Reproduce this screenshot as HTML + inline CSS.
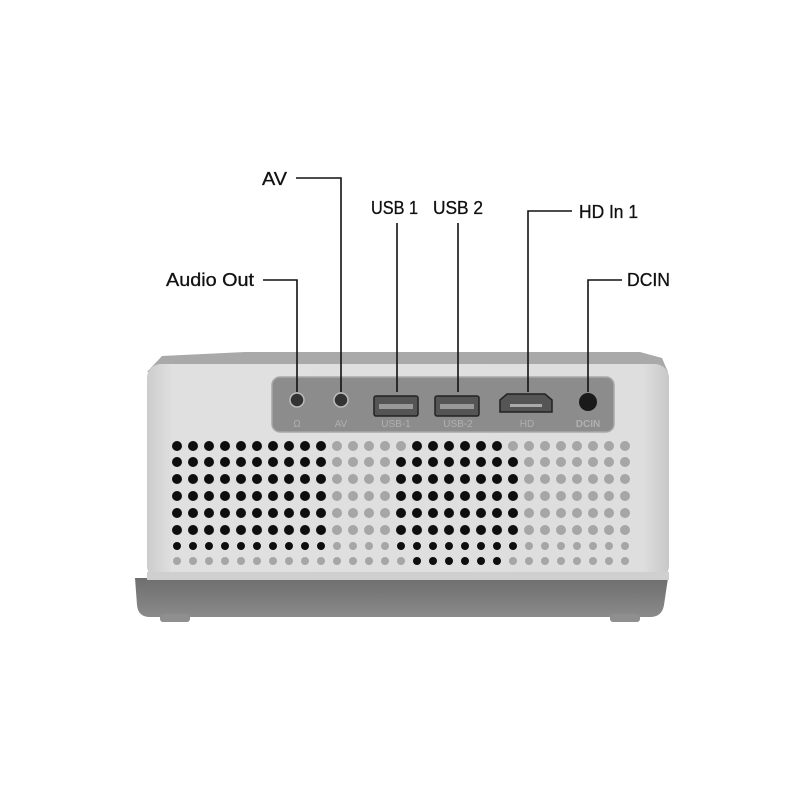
<!DOCTYPE html>
<html><head><style>
html,body{margin:0;padding:0;background:#fff;}
svg{display:block}
text{font-family:"Liberation Sans",sans-serif;}
</style></head><body>
<svg width="800" height="800" viewBox="0 0 800 800" xmlns="http://www.w3.org/2000/svg">
<defs>
<linearGradient id="body" x1="0" y1="0" x2="1" y2="0">
<stop offset="0" stop-color="#cccccc"/><stop offset="0.05" stop-color="#e0e0e0"/><stop offset="0.95" stop-color="#dedede"/><stop offset="1" stop-color="#c8c8c8"/>
</linearGradient>
<linearGradient id="base" x1="0" y1="0" x2="0" y2="1">
<stop offset="0" stop-color="#6e6e6e"/><stop offset="1" stop-color="#8a8a8a"/>
</linearGradient>
</defs>
<path d="M162 356 L245 352 L640 352 L662 358 L668 372 L147 372 Z" fill="#a9a9a9"/>
<path d="M135 578 L668 578 L664 605 Q662 617 650 617 L150 617 Q138 617 137 605 Z" fill="url(#base)"/>
<rect x="160" y="614" width="30" height="8" rx="3" fill="#8f8f8f"/>
<rect x="610" y="614" width="30" height="8" rx="3" fill="#8f8f8f"/>
<rect x="147" y="364" width="522" height="216" rx="14" fill="url(#body)"/>
<rect x="147" y="572" width="522" height="8" fill="#cfcfcf"/>
<rect x="272" y="377" width="342" height="55" rx="8" fill="#8c8c8c" stroke="#a8a8a8" stroke-width="1.5"/>
<circle cx="297" cy="400" r="7" fill="#333" stroke="#bbb" stroke-width="1.5"/>
<circle cx="341" cy="400" r="7" fill="#333" stroke="#bbb" stroke-width="1.5"/>
<rect x="374" y="396" width="44" height="20" rx="2" fill="#555" stroke="#222" stroke-width="1.5"/>
<rect x="379" y="404" width="34" height="5" fill="#999"/>
<rect x="435" y="396" width="44" height="20" rx="2" fill="#555" stroke="#222" stroke-width="1.5"/>
<rect x="440" y="404" width="34" height="5" fill="#999"/>
<path d="M500 400 L507 394 L545 394 L552 400 L552 412 L500 412 Z" fill="#555" stroke="#222" stroke-width="1.5"/>
<rect x="510" y="404" width="32" height="3" fill="#aaa"/>
<circle cx="588" cy="402" r="9" fill="#1a1a1a"/>
<g font-size="10" fill="#b0b0b0" text-anchor="middle">
<text x="297" y="427">Ω</text><text x="341" y="427">AV</text><text x="396" y="427">USB-1</text><text x="458" y="427">USB-2</text><text x="527" y="427">HD</text><text x="588" y="427" font-weight="bold">DCIN</text>
</g>
<g id="dots"></g>
<g stroke="#111" stroke-width="1.6" fill="none">
<polyline points="296,178 341,178 341,392"/>
<polyline points="263,280 297,280 297,392"/>
<line x1="397" y1="223" x2="397" y2="392"/>
<line x1="458" y1="223" x2="458" y2="392"/>
<polyline points="572,211 528,211 528,392"/>
<polyline points="622,280 588,280 588,392"/>
</g>
<g font-size="18" fill="#111" stroke="#111" stroke-width="0.3">
<text x="262" y="185" textLength="25" lengthAdjust="spacingAndGlyphs">AV</text>
<text x="166" y="286" textLength="88" lengthAdjust="spacingAndGlyphs">Audio Out</text>
<text x="371" y="214" textLength="47" lengthAdjust="spacingAndGlyphs">USB 1</text>
<text x="433" y="214" textLength="50" lengthAdjust="spacingAndGlyphs">USB 2</text>
<text x="579" y="218" textLength="59" lengthAdjust="spacingAndGlyphs">HD In 1</text>
<text x="627" y="286" textLength="43" lengthAdjust="spacingAndGlyphs">DCIN</text>
</g>
</svg>
<script>
var g=document.getElementById('dots'),ys=[446,462,479,496,513,530,546,561],s='';
for(var r=0;r<8;r++)for(var c=0;c<29;c++){
var dark;
if(r==0)dark=c<=9||(c>=15&&c<=20);
else if(r==7)dark=c>=15&&c<=20;
else dark=c<=9||(c>=14&&c<=21);
var rad=(r>=6)?4:5;
s+='<circle cx="'+(177+c*16)+'" cy="'+ys[r]+'" r="'+rad+'" fill="'+(dark?'#0e0e0e':'#a6a6a6')+'"/>';}
g.innerHTML=s;
</script>
</body></html>
